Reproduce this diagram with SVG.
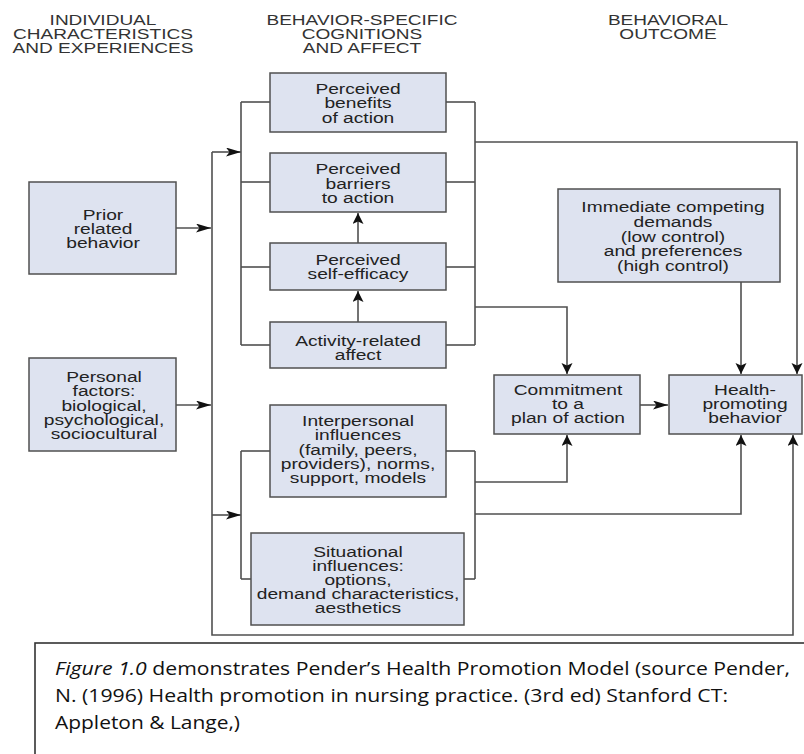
<svg xmlns="http://www.w3.org/2000/svg" width="804" height="754" viewBox="0 0 804 754">
<style>
.bg{fill:#ffffff}
.box{fill:#dee3f0;stroke:#505050;stroke-width:1.5}
.ln{fill:none;stroke:#505050;stroke-width:1.6}
.t{font-family:"Liberation Sans",Arial,sans-serif;font-size:14px;fill:#222;text-anchor:middle}
.h{font-family:"Liberation Sans",Arial,sans-serif;font-size:14px;fill:#333;text-anchor:middle}
.cap{font-family:"Open Sans","Noto Sans",sans-serif;font-size:19px;fill:#111}
.capbox{fill:#fff;stroke:#333;stroke-width:1.6}
</style>
<defs>
<marker id="ah" markerUnits="userSpaceOnUse" markerWidth="16" markerHeight="10" refX="15" refY="4.5" orient="auto">
<path d="M0,0 L15,4.5 L0,9 L3.5,4.5 z" fill="#111"/>
</marker>
<marker id="av" markerUnits="userSpaceOnUse" markerWidth="12" markerHeight="12" refX="11" refY="5.5" orient="auto">
<path d="M0,0 L11,5.5 L0,11 L2.5,5.5 z" fill="#111"/>
</marker>
</defs>
<rect class="bg" x="0" y="0" width="804" height="754"/>

<g id="headers">
<text class="h" transform="translate(103 0) scale(1.36 1)"><tspan x="0" y="25">INDIVIDUAL</tspan><tspan x="0" y="39">CHARACTERISTICS</tspan><tspan x="0" y="53">AND EXPERIENCES</tspan></text>
<text class="h" transform="translate(362 0) scale(1.36 1)"><tspan x="0" y="25">BEHAVIOR-SPECIFIC</tspan><tspan x="0" y="39">COGNITIONS</tspan><tspan x="0" y="53">AND AFFECT</tspan></text>
<text class="h" transform="translate(668 0) scale(1.36 1)"><tspan x="0" y="25">BEHAVIORAL</tspan><tspan x="0" y="39">OUTCOME</tspan></text>
</g>

<g id="connectors">
<!-- left trunk -->
<line class="ln" x1="176" y1="228" x2="211" y2="228" marker-end="url(#ah)"/>
<line class="ln" x1="176" y1="405" x2="211" y2="405" marker-end="url(#ah)"/>
<polyline class="ln" points="212,152 212,635 793,635 793,435" marker-end="url(#av)"/>
<line class="ln" x1="212" y1="152" x2="241" y2="152" marker-end="url(#ah)"/>
<line class="ln" x1="212" y1="515" x2="241" y2="515" marker-end="url(#ah)"/>
<!-- upper group buses -->
<line class="ln" x1="241" y1="102" x2="241" y2="345"/>
<line class="ln" x1="241" y1="102" x2="270" y2="102"/>
<line class="ln" x1="241" y1="182" x2="270" y2="182"/>
<line class="ln" x1="241" y1="267" x2="270" y2="267"/>
<line class="ln" x1="241" y1="345" x2="270" y2="345"/>
<line class="ln" x1="475" y1="102" x2="475" y2="345"/>
<line class="ln" x1="446" y1="102" x2="475" y2="102"/>
<line class="ln" x1="446" y1="182" x2="475" y2="182"/>
<line class="ln" x1="446" y1="267" x2="475" y2="267"/>
<line class="ln" x1="446" y1="345" x2="475" y2="345"/>
<polyline class="ln" points="475,142 797,142 797,374" marker-end="url(#av)"/>
<polyline class="ln" points="475,307 567,307 567,374" marker-end="url(#av)"/>
<line class="ln" x1="741" y1="282" x2="741" y2="374" marker-end="url(#av)"/>
<line class="ln" x1="358" y1="243" x2="358" y2="213" marker-end="url(#av)"/>
<line class="ln" x1="358" y1="322" x2="358" y2="291" marker-end="url(#av)"/>
<line class="ln" x1="640" y1="405" x2="668" y2="405" marker-end="url(#ah)"/>
<!-- lower group buses -->
<line class="ln" x1="241" y1="451" x2="241" y2="579"/>
<line class="ln" x1="241" y1="451" x2="270" y2="451"/>
<line class="ln" x1="241" y1="579" x2="251" y2="579"/>
<line class="ln" x1="475" y1="451" x2="475" y2="579"/>
<line class="ln" x1="446" y1="451" x2="475" y2="451"/>
<line class="ln" x1="464" y1="579" x2="475" y2="579"/>
<polyline class="ln" points="475,482 567,482 567,435" marker-end="url(#av)"/>
<polyline class="ln" points="475,514 741,514 741,435" marker-end="url(#av)"/>
</g>

<g id="prior">
<rect class="box" x="29" y="182" width="147" height="92"/>
<text class="t" transform="translate(103 0) scale(1.37 1)"><tspan x="0" y="220">Prior</tspan><tspan x="0" y="234">related</tspan><tspan x="0" y="248">behavior</tspan></text>
</g>
<g id="personal">
<rect class="box" x="29" y="358" width="147" height="93"/>
<text class="t" transform="translate(104 0) scale(1.37 1)"><tspan x="0" y="382">Personal</tspan><tspan x="0" y="396">factors:</tspan><tspan x="0" y="411">biological,</tspan><tspan x="0" y="425">psychological,</tspan><tspan x="0" y="439">sociocultural</tspan></text>
</g>
<g id="benefits">
<rect class="box" x="270" y="73" width="176" height="59"/>
<text class="t" transform="translate(358 0) scale(1.37 1)"><tspan x="0" y="94">Perceived</tspan><tspan x="0" y="108.5">benefits</tspan><tspan x="0" y="123">of action</tspan></text>
</g>
<g id="barriers">
<rect class="box" x="270" y="153" width="176" height="59"/>
<text class="t" transform="translate(358 0) scale(1.37 1)"><tspan x="0" y="174">Perceived</tspan><tspan x="0" y="189">barriers</tspan><tspan x="0" y="203">to action</tspan></text>
</g>
<g id="selfefficacy">
<rect class="box" x="270" y="243" width="176" height="47"/>
<text class="t" transform="translate(358 0) scale(1.37 1)"><tspan x="0" y="265">Perceived</tspan><tspan x="0" y="279">self-efficacy</tspan></text>
</g>
<g id="activity">
<rect class="box" x="270" y="322" width="176" height="46"/>
<text class="t" transform="translate(358 0) scale(1.37 1)"><tspan x="0" y="346">Activity-related</tspan><tspan x="0" y="360">affect</tspan></text>
</g>
<g id="interpersonal">
<rect class="box" x="270" y="405" width="176" height="92"/>
<text class="t" transform="translate(358 0) scale(1.37 1)"><tspan x="0" y="426">Interpersonal</tspan><tspan x="0" y="440">influences</tspan><tspan x="0" y="455">(family, peers,</tspan><tspan x="0" y="469">providers), norms,</tspan><tspan x="0" y="483">support, models</tspan></text>
</g>
<g id="situational">
<rect class="box" x="251" y="533" width="213" height="92"/>
<text class="t" transform="translate(358 0) scale(1.37 1)"><tspan x="0" y="557">Situational</tspan><tspan x="0" y="571">influences:</tspan><tspan x="0" y="585">options,</tspan><tspan x="0" y="599">demand characteristics,</tspan><tspan x="0" y="613">aesthetics</tspan></text>
</g>
<g id="immediate">
<rect class="box" x="558" y="189" width="222" height="93"/>
<text class="t" transform="translate(673 0) scale(1.37 1)"><tspan x="0" y="212">Immediate competing</tspan><tspan x="0" y="227">demands</tspan><tspan x="0" y="242">(low control)</tspan><tspan x="0" y="256">and preferences</tspan><tspan x="0" y="271">(high control)</tspan></text>
</g>
<g id="commitment">
<rect class="box" x="494" y="375" width="146" height="59"/>
<text class="t" transform="translate(568 0) scale(1.37 1)"><tspan x="0" y="395">Commitment</tspan><tspan x="0" y="409">to a</tspan><tspan x="0" y="423">plan of action</tspan></text>
</g>
<g id="health">
<rect class="box" x="669" y="375" width="133" height="59"/>
<text class="t" transform="translate(745 0) scale(1.37 1)"><tspan x="0" y="395">Health-</tspan><tspan x="0" y="409">promoting</tspan><tspan x="0" y="423">behavior</tspan></text>
</g>

<g id="caption">
<rect class="capbox" x="35" y="643" width="790" height="130"/>
<text class="cap" x="55" y="675" textLength="735" lengthAdjust="spacingAndGlyphs"><tspan font-style="italic">Figure 1.0</tspan> demonstrates Pender’s Health Promotion Model (source Pender,</text>
<text class="cap" x="55" y="702" textLength="673" lengthAdjust="spacingAndGlyphs">N. (1996) Health promotion in nursing practice. (3rd ed) Stanford  CT:</text>
<text class="cap" x="55" y="729" textLength="185" lengthAdjust="spacingAndGlyphs">Appleton &amp; Lange,)</text>
</g>
</svg>
